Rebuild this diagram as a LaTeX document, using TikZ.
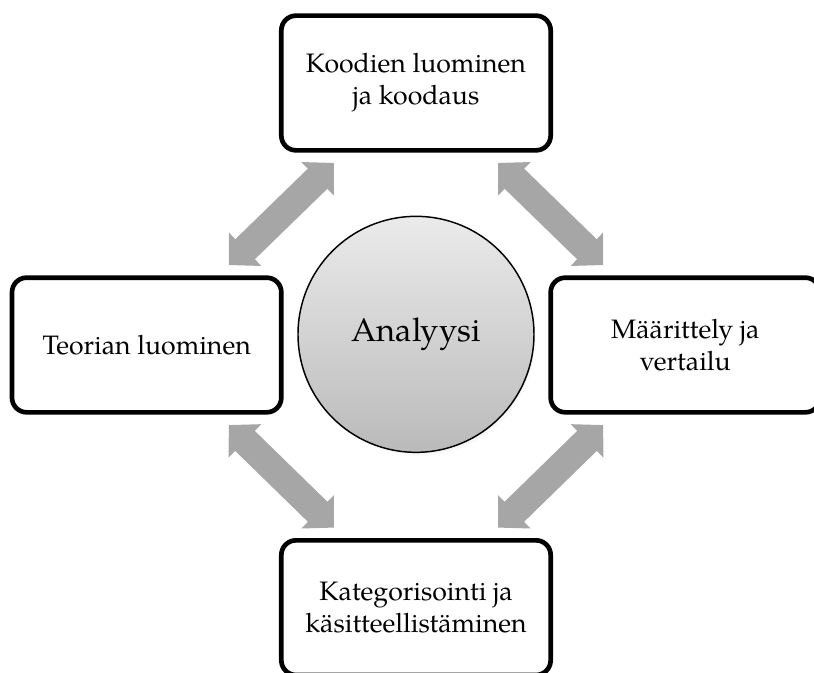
\documentclass[tikz,border=0pt]{standalone}
\usepackage{fontspec}
\setmainfont{TeX Gyre Pagella}
\usetikzlibrary{arrows.meta,shadows}

\definecolor{arrowgray}{RGB}{166,166,166}

\begin{document}
\begin{tikzpicture}[node distance=202pt,
                    box/.style={rectangle,draw,line width=3.5pt,rounded corners=11pt,
                      minimum width=202pt,minimum height=101pt,align=center,
                      font=\fontsize{20}{24}\selectfont},
                    hub/.style={circle,draw,line width=1.1pt,minimum size=177pt,
                      top color=black!8,bottom color=black!27,
                      circular drop shadow={shadow scale=1,shadow yshift=-3pt,opacity=.35},
                      font=\fontsize{24.5}{29}\selectfont},
                    dbl/.style={draw=arrowgray,line width=21pt,
                      {Triangle[width=34pt,length=17pt]}-{Triangle[width=34pt,length=17pt]},
                      shorten <=86pt,shorten >=86pt}]

  \useasboundingbox (-312pt,-245.25pt) rectangle (298.5pt,258.75pt);
  \clip (-312pt,-245.25pt) rectangle (298.5pt,258.75pt);

  \coordinate (mid) at (0,0);
  \node[hub] (an) at (0,8pt) {Analyysi};
  \node[box,node distance=196.5pt] (ko) [above of=mid] {Koodien luominen\\ja koodaus};
  \node[box,node distance=197pt] (ka) [below of=mid] {Kategorisointi ja\\käsitteellistäminen};
  \node[box] (te) [left of=mid] {Teorian luominen};
  \node[box] (ma) [right of=mid] {Määrittely ja\\vertailu};

  \draw[dbl] (te.center) -- (ko.center);
  \draw[dbl] (ko.center) -- (ma.center);
  \draw[dbl] (te.center) -- (ka.center);
  \draw[dbl] (ma.center) -- (ka.center);
\end{tikzpicture}
\end{document}
